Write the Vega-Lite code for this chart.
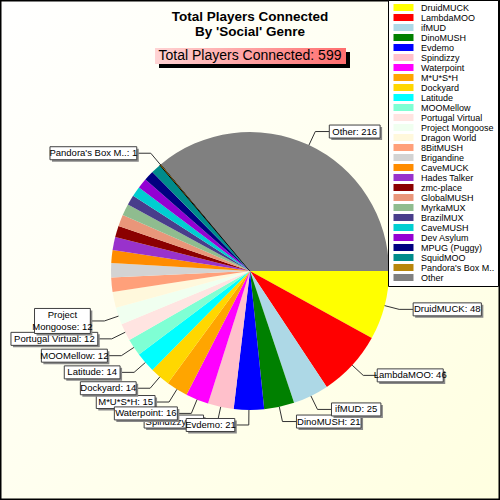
{
  "$schema": "https://vega.github.io/schema/vega-lite/v6.json",
  "width": 500,
  "height": 500,
  "autosize": "none",
  "padding": 0,
  "background": "#fffff4",
  "title": {
    "text": ["Total Players Connected", "By 'Social' Genre"],
    "anchor": "middle",
    "orient": "top",
    "offset": -40,
    "font": "Liberation Sans",
    "fontSize": 13.5,
    "fontWeight": "bold",
    "lineHeight": 15,
    "color": "black"
  },
  "data": {
    "values": [
      {"name": "DruidMUCK", "players": 48},
      {"name": "LambdaMOO", "players": 46},
      {"name": "ifMUD", "players": 25},
      {"name": "DinoMUSH", "players": 21},
      {"name": "Evdemo", "players": 21},
      {"name": "Spindizzy", "players": 18},
      {"name": "Waterpoint", "players": 16},
      {"name": "M*U*S*H", "players": 15},
      {"name": "Dockyard", "players": 14},
      {"name": "Latitude", "players": 14},
      {"name": "MOOMellow", "players": 12},
      {"name": "Portugal Virtual", "players": 12},
      {"name": "Project Mongoose", "players": 12},
      {"name": "Dragon World", "players": 11},
      {"name": "8BitMUSH", "players": 10},
      {"name": "Brigandine", "players": 10},
      {"name": "CaveMUCK", "players": 9},
      {"name": "Hades Talker", "players": 9},
      {"name": "zmc-place", "players": 8},
      {"name": "GlobalMUSH", "players": 8},
      {"name": "MyrkaMUX", "players": 8},
      {"name": "BrazilMUX", "players": 7},
      {"name": "CaveMUSH", "players": 7},
      {"name": "Dev Asylum", "players": 7},
      {"name": "MPUG (Puggy)", "players": 7},
      {"name": "SquidMOO", "players": 7},
      {"name": "Pandora's Box M..", "players": 1},
      {"name": "Other", "players": 216}
    ]
  },
  "transform": [
    {"window": [{"op": "row_number", "as": "idx"}]},
    {"window": [{"op": "sum", "field": "players", "as": "cum"}], "sort": [{"field": "idx"}], "frame": [null, 0]},
    {"joinaggregate": [{"op": "sum", "field": "players", "as": "total"}]},
    {"calculate": "(datum.cum - datum.players / 2) / datum.total * 2 * PI", "as": "ang"},
    {"calculate": "139 * cos(datum.ang)", "as": "ex"},
    {"calculate": "21 + 139 * sin(datum.ang)", "as": "ey"},
    {"calculate": "154 * cos(datum.ang)", "as": "bx"},
    {"calculate": "21 + 154 * sin(datum.ang)", "as": "by"},
    {"calculate": "cos(datum.ang) >= 0 ? 1 : -1", "as": "side"},
    {"calculate": "datum.bx + 14 * datum.side", "as": "hx"},
    {"calculate": "datum.name === 'Project Mongoose' ? ['Project', 'Mongoose: ' + datum.players] : [datum.name + ': ' + datum.players]", "as": "lines"},
    {"calculate": "datum.lines[length(datum.lines) - 1]", "as": "tw"},
    {"calculate": "3.6 * length(datum.tw) + 2.2 * length(replace(datum.tw, regexp('[^A-Z0-9]', 'g'), '')) + 6", "as": "w"},
    {"calculate": "length(datum.lines)", "as": "nl"},
    {"calculate": "datum.side > 0 ? datum.hx : datum.hx - datum.w", "as": "bx1"},
    {"calculate": "datum.side > 0 ? datum.hx + datum.w : datum.hx", "as": "bx2"},
    {"calculate": "datum.by - 6 * datum.nl - 0.5", "as": "by1"},
    {"calculate": "datum.by + 6 * datum.nl + 0.5", "as": "by2"},
    {"calculate": "(datum.bx1 + datum.bx2) / 2", "as": "tx"},
    {"calculate": "datum.by - (datum.nl - 1) * 6", "as": "ty"}
  ],
  "layer": [
    {
      "transform": [{"aggregate": [{"op": "count", "as": "n"}]}],
      "mark": {
        "type": "rect",
        "fill": {
          "gradient": "linear", "x1": 0, "y1": 0, "x2": 1, "y2": 1,
          "stops": [{"offset": 0, "color": "#ffffff"}, {"offset": 1, "color": "#ffffe0"}]
        },
        "stroke": "black",
        "strokeWidth": 3
      },
      "encoding": {}
    },
    {
      "mark": {"type": "arc", "outerRadius": 139},
      "encoding": {
        "x": {"datum": 0, "type": "quantitative", "scale": {"domain": [-250, 250], "nice": false, "zero": false}, "axis": null},
        "y": {"datum": 21, "type": "quantitative", "scale": {"domain": [-250, 250], "nice": false, "zero": false, "reverse": true}, "axis": null},
        "theta": {"field": "players", "type": "quantitative", "stack": true, "scale": {"range": [1.5707963, 7.8539816]}},
        "order": {"field": "idx", "type": "quantitative"},
        "stroke": {"condition": {"test": "datum.players == 1", "value": "black"}, "value": "transparent"},
        "color": {
          "field": "name",
          "type": "nominal",
          "scale": {
            "domain": ["DruidMUCK", "LambdaMOO", "ifMUD", "DinoMUSH", "Evdemo", "Spindizzy", "Waterpoint", "M*U*S*H", "Dockyard", "Latitude", "MOOMellow", "Portugal Virtual", "Project Mongoose", "Dragon World", "8BitMUSH", "Brigandine", "CaveMUCK", "Hades Talker", "zmc-place", "GlobalMUSH", "MyrkaMUX", "BrazilMUX", "CaveMUSH", "Dev Asylum", "MPUG (Puggy)", "SquidMOO", "Pandora's Box M..", "Other"],
            "range": ["#ffff00", "#ff0000", "#add8e6", "#008000", "#0000ff", "#ffc0cb", "#ff00ff", "#ffa500", "#ffd700", "#00ffff", "#7fffd4", "#ffe4e1", "#f0fff0", "#fff8dc", "#ffa07a", "#d3d3d3", "#ff8c00", "#9932cc", "#8b0000", "#e9967a", "#8fbc8f", "#483d8b", "#00ced1", "#9400d3", "#000080", "#008b8b", "#b8860b", "#808080"]
          },
          "legend": {
            "orient": "none",
            "legendX": 388,
            "legendY": 0,
            "title": null,
            "symbolType": "M-1,-1.75H9V1.75H-1Z",
            "symbolSize": 16,
            "symbolStrokeWidth": 0,
            "symbolOpacity": 1,
            "labelFont": "Liberation Sans",
            "labelFontSize": 9,
            "labelColor": "black",
            "labelOffset": 21,
            "labelLimit": 200,
            "rowPadding": 0,
            "padding": 3,
            "strokeColor": "black",
            "fillColor": "white",
            "encode": {
              "symbols": {
                "update": {
                  "stroke": [{"test": "datum.value === \"Pandora's Box M..\"", "value": "black"}, {"value": "transparent"}],
                  "strokeWidth": {"value": 1.5}
                }
              }
            }
          }
        }
      }
    },
    {
      "transform": [{"filter": "datum.idx <= 13 || datum.idx >= 27"}],
      "mark": {"type": "rule", "color": "#333333", "strokeWidth": 1},
      "encoding": {
        "x": {"field": "ex", "type": "quantitative"},
        "y": {"field": "ey", "type": "quantitative"},
        "x2": {"field": "bx"},
        "y2": {"field": "by"}
      }
    },
    {
      "transform": [{"filter": "datum.idx <= 13 || datum.idx >= 27"}],
      "mark": {"type": "rule", "color": "#333333", "strokeWidth": 1},
      "encoding": {
        "x": {"field": "bx", "type": "quantitative"},
        "y": {"field": "by", "type": "quantitative"},
        "x2": {"field": "hx"},
        "y2": {"field": "by"}
      }
    },
    {
      "transform": [{"filter": "(datum.idx <= 13 || datum.idx >= 27) && datum.idx % 2 == 0"}],
      "mark": {"type": "rect", "fill": "#888888", "xOffset": 2, "yOffset": 2, "x2Offset": 2, "y2Offset": 2},
      "encoding": {
        "x": {"field": "bx1", "type": "quantitative"},
        "x2": {"field": "bx2"},
        "y": {"field": "by1", "type": "quantitative"},
        "y2": {"field": "by2"}
      }
    },
    {
      "transform": [{"filter": "(datum.idx <= 13 || datum.idx >= 27) && datum.idx % 2 == 0"}],
      "mark": {"type": "rect", "fill": "white", "stroke": "#404040", "strokeWidth": 1},
      "encoding": {
        "x": {"field": "bx1", "type": "quantitative"},
        "x2": {"field": "bx2"},
        "y": {"field": "by1", "type": "quantitative"},
        "y2": {"field": "by2"}
      }
    },
    {
      "transform": [{"filter": "(datum.idx <= 13 || datum.idx >= 27) && datum.idx % 2 == 0"}],
      "mark": {"type": "text", "font": "Liberation Sans", "fontSize": 9.5, "align": "center", "baseline": "middle", "lineHeight": 12, "color": "black"},
      "encoding": {
        "x": {"field": "tx", "type": "quantitative"},
        "y": {"field": "ty", "type": "quantitative"},
        "text": {"field": "lines"}
      }
    },
    {
      "transform": [{"filter": "(datum.idx <= 13 || datum.idx >= 27) && datum.idx % 2 == 1"}],
      "mark": {"type": "rect", "fill": "#888888", "xOffset": 2, "yOffset": 2, "x2Offset": 2, "y2Offset": 2},
      "encoding": {
        "x": {"field": "bx1", "type": "quantitative"},
        "x2": {"field": "bx2"},
        "y": {"field": "by1", "type": "quantitative"},
        "y2": {"field": "by2"}
      }
    },
    {
      "transform": [{"filter": "(datum.idx <= 13 || datum.idx >= 27) && datum.idx % 2 == 1"}],
      "mark": {"type": "rect", "fill": "white", "stroke": "#404040", "strokeWidth": 1},
      "encoding": {
        "x": {"field": "bx1", "type": "quantitative"},
        "x2": {"field": "bx2"},
        "y": {"field": "by1", "type": "quantitative"},
        "y2": {"field": "by2"}
      }
    },
    {
      "transform": [{"filter": "(datum.idx <= 13 || datum.idx >= 27) && datum.idx % 2 == 1"}],
      "mark": {"type": "text", "font": "Liberation Sans", "fontSize": 9.5, "align": "center", "baseline": "middle", "lineHeight": 12, "color": "black"},
      "encoding": {
        "x": {"field": "tx", "type": "quantitative"},
        "y": {"field": "ty", "type": "quantitative"},
        "text": {"field": "lines"}
      }
    },
    {
      "transform": [{"aggregate": [{"op": "sum", "field": "players", "as": "sum"}]}],
      "mark": {"type": "rect", "fill": "black"},
      "encoding": {
        "x": {"datum": -91, "type": "quantitative"},
        "x2": {"datum": 100},
        "y": {"datum": -198, "type": "quantitative"},
        "y2": {"datum": -182}
      }
    },
    {
      "transform": [{"aggregate": [{"op": "sum", "field": "players", "as": "sum"}]}],
      "mark": {
        "type": "rect",
        "fill": {
          "gradient": "linear", "x1": 0, "y1": 0, "x2": 1, "y2": 0,
          "stops": [{"offset": 0, "color": "#ffd4d4"}, {"offset": 1, "color": "#ff6e6e"}]
        }
      },
      "encoding": {
        "x": {"datum": -95, "type": "quantitative"},
        "x2": {"datum": 96},
        "y": {"datum": -202, "type": "quantitative"},
        "y2": {"datum": -186}
      }
    },
    {
      "transform": [
        {"aggregate": [{"op": "sum", "field": "players", "as": "sum"}]},
        {"calculate": "'Total Players Connected: ' + datum.sum", "as": "label"}
      ],
      "mark": {"type": "text", "font": "Liberation Sans", "fontSize": 14, "align": "center", "baseline": "middle", "color": "black"},
      "encoding": {
        "x": {"datum": 0, "type": "quantitative"},
        "y": {"datum": -194, "type": "quantitative"},
        "text": {"field": "label"}
      }
    }
  ],
  "config": {
    "view": {"stroke": null},
    "font": "Liberation Sans"
  }
}
